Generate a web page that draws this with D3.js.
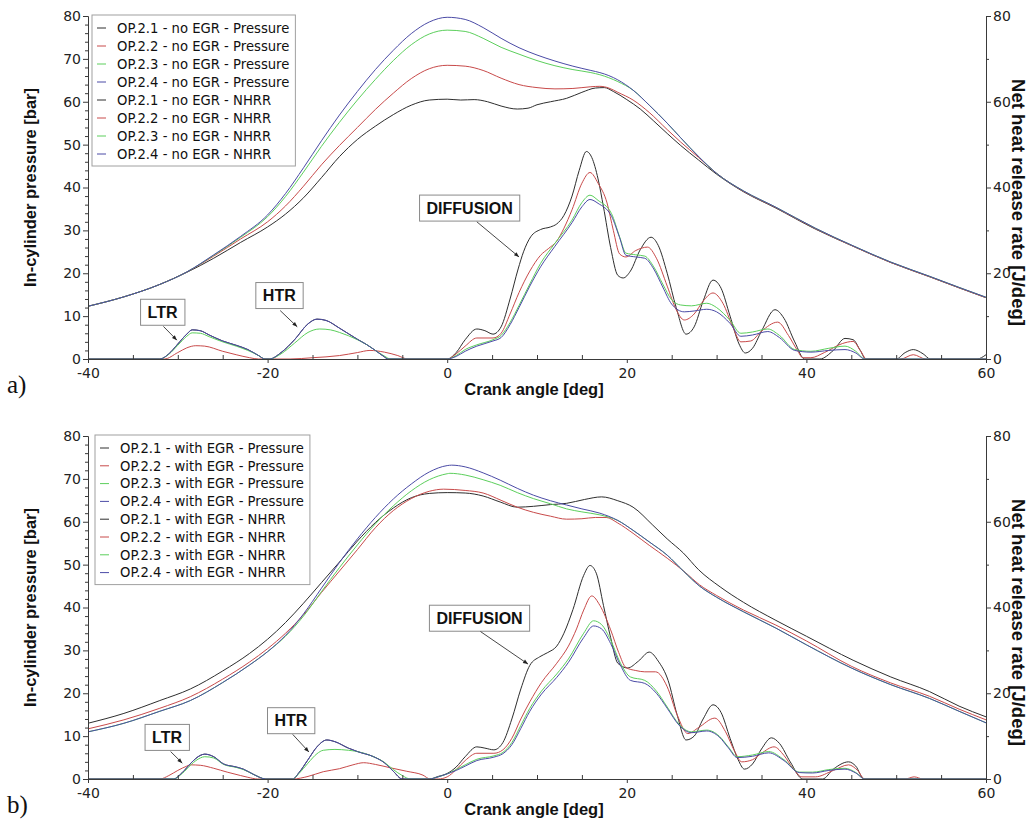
<!DOCTYPE html>
<html><head><meta charset="utf-8">
<script src="https://cdn.jsdelivr.net/npm/d3@7/dist/d3.min.js"></script>
<style>body{margin:0;background:#fff}</style>
</head><body>
<svg id="chart" width="1030" height="826"></svg>
<script>
// ---------------- DATA ----------------
const xMajorTicks = [-40, -20, 0, 20, 40, 60];
const xMinorTicks = [-35,-30,-25,-15,-10,-5,5,10,15,25,30,35,45,50,55];
const yLeftTicks = [0, 10, 20, 30, 40, 50, 60, 70, 80];
const yLeftMinor = [2,4,6,8,12,14,16,18,22,24,26,28,32,34,36,38,42,44,46,48,52,54,56,58,62,64,66,68,72,74,76,78];
const yRightTicks = [0, 20, 40, 60, 80];
const yRightMinor = [10, 30, 50, 70];
const opNames = ["OP.2.1", "OP.2.2", "OP.2.3", "OP.2.4"];
const conditions = ["no EGR", "with EGR"];
const panelTags = ["a)", "b)"];
const quantityNames = ["Pressure", "NHRR"];
const annotationLabels = ["LTR", "HTR", "DIFFUSION"];
// annotation anchors [label index, box centre deg, box centre value, arrow start deg, value, arrow end deg, value]
const annotationsA = [[0,-31.7,10.9,-31.6,7.6,-30.1,4.4],[1,-18.7,14.8,-18.6,11.3,-16.7,7.5],[2,2.5,35.2,3.3,32.0,8.0,23.8]];
const annotationsB = [[0,-31.2,9.7,-30.8,6.4,-29.5,3.7],[1,-17.4,13.6,-17.2,10.4,-15.4,6.3],[2,3.6,37.5,3.7,34.4,9.0,26.8]];

// Panel a) pressure [deg, bar]
const pressA1 = [[-40,12.3],[-36,14.5],[-32,17.4],[-29,20.2],[-26,23.5],[-23,27.2],[-20,30.8],[-18,33.8],[-16,37.6],[-14,42.3],[-12,47.2],[-10,51.2],[-8,54.3],[-6,57],[-4,59.2],[-2,60.4],[0,60.6],[1.5,60.4],[3,60.5],[4.5,60],[6,59],[7.8,58.3],[9,58.5],[10,59.3],[11.5,60],[13.3,60.8],[15,62.2],[16.5,63.2],[17.5,63.3],[18.5,62.4],[20,60.5],[21.5,58.3],[23,55.5],[24.5,52.6],[26,49.8],[28,46.4],[30,43.1],[33,39],[36.6,35.2],[41,30.3],[45.2,26.3],[49.4,22.5],[53.7,19.2],[57,16.6],[60,14.3]];
const pressA2 = [[-40,12.3],[-36,14.5],[-32,17.4],[-29,20.3],[-26,24],[-23,28],[-20,32],[-18,35.7],[-16,40.3],[-14,45.3],[-12,49.8],[-10,54],[-8,58.2],[-6,62],[-4,65.4],[-2,67.7],[0,68.5],[2,68.3],[4,67.3],[6,65.5],[8,64],[10,63.3],[12,63],[14,63.1],[16,63.5],[17,63.6],[18,63.2],[19,62.2],[20.7,60.4],[22.5,57.5],[24.5,53.5],[26,50.6],[28,47],[30,43.3],[33,39.1],[36.6,35.3],[41,30.4],[45.2,26.3],[49.4,22.5],[53.7,19.2],[57,16.6],[60,14.3]];
const pressA3 = [[-40,12.3],[-36,14.5],[-32,17.4],[-29,20.3],[-26,24.2],[-23,28.4],[-20,33.2],[-18,37.9],[-16,43.6],[-14,49.6],[-12,55.2],[-10,60.4],[-8,65.2],[-6,69.6],[-4,73.3],[-2,75.8],[0,76.7],[2,76.4],[4,74.8],[6,72.7],[8,71.1],[10,69.6],[12,68.4],[14,67.5],[16,66.8],[17,66.3],[18,65.6],[19,64.7],[20.7,62.7],[22.5,59.2],[24.5,55],[26,51.6],[28.1,47],[30,43.3],[33,39.2],[36.6,35.4],[41,30.5],[45.2,26.4],[49.4,22.6],[53.7,19.3],[57,16.7],[60,14.4]];
const pressA4 = [[-40,12.3],[-36,14.5],[-32,17.4],[-29,20.3],[-26,24.3],[-23,28.6],[-20,33.6],[-18,38.6],[-16,44.6],[-14,50.9],[-12,56.9],[-10,62.4],[-8,67.5],[-6,72],[-4,75.9],[-2,78.6],[0,79.7],[2,79.2],[4,77.3],[6,74.8],[8,72.6],[10,70.9],[12,69.5],[14,68.3],[16,67.3],[17,66.8],[18,66.1],[19,65.1],[20.7,62.7],[22.5,59.2],[24.5,55],[26,51.6],[28.1,47],[30,43.3],[33,39.2],[36.6,35.4],[41,30.5],[45.2,26.4],[49.4,22.6],[53.7,19.3],[57,16.7],[60,14.4]];

// Panel a) net heat release rate [deg, J/deg]
const nhrrA1 = [[-40,0],[-32,0],[-31,1.2],[-30,3.5],[-29,5.8],[-28.4,6.8],[-27.5,6.6],[-26.5,5.6],[-25,4.2],[-23.5,3.2],[-22.2,2.2],[-21,0.8],[-20.3,0],[-19.8,0],[-18.5,1.5],[-17,4.5],[-15.5,8.2],[-14.5,9.3],[-13.5,9],[-12,7.2],[-10,4.6],[-9,3.4],[-8,2],[-7,0.5],[-6.6,0],[0,0],[1,1.5],[2,4.5],[3.3,7],[4.2,6.6],[5.1,5.8],[6,7.5],[7,14],[7.9,21],[8.5,25],[9.3,28.5],[10.4,30.2],[11.5,30.8],[12.2,31.5],[13,33.5],[13.9,38],[14.7,44],[15.5,48.4],[16.1,47],[16.8,42],[17.4,35.5],[18.2,26],[19,19.5],[19.6,18.9],[20.4,20.5],[21.5,25.5],[22.7,28.4],[23.5,26.5],[24.5,20],[25.5,12],[26.6,5.8],[27.5,7.5],[28.5,13.5],[29.6,18.4],[30.5,16.5],[31.5,10],[32.5,3.5],[33.2,1.4],[34,2.5],[35,6.5],[36.5,11.5],[37.5,9.5],[38.7,4],[39.8,0],[41.5,0],[43,2],[44.3,4.8],[45.2,4.5],[46,2],[46.6,0],[50,0],[51,1.5],[51.9,2.2],[53,1.2],[53.8,0],[59,0],[60,1]];
const nhrrA2 = [[-40,0],[-31.5,0],[-30,1.5],[-29,2.6],[-28,3.1],[-27,3],[-25,1.8],[-23.5,1],[-22,0.3],[-21,0],[-17.5,0],[-15,0.3],[-12,0.8],[-10,1.5],[-8.6,2],[-7,1.6],[-5.5,0.8],[-4.4,0],[0,0],[1,1.2],[2,3],[3.3,4.9],[5.1,4.9],[6,6],[7,10.5],[8,15.5],[9.2,20.5],[10.4,24.2],[11.3,25.8],[12.2,27.5],[13,30.5],[13.9,34.8],[15,41],[15.9,43.5],[16.8,41],[17.8,36.4],[18.5,30],[19.2,24.5],[19.9,23.8],[21,25.3],[22.3,26.1],[23.3,23.5],[24.5,17],[25.5,11.5],[26.4,9.1],[27.5,10.5],[28.5,13.5],[29.6,15.4],[30.7,13],[31.8,7.5],[32.7,4],[33.8,4.2],[35,6.5],[36.8,8.6],[38,5.5],[39,2],[39.6,0.3],[40.5,0.3],[42,1.5],[44,3.6],[45.2,4.1],[46,2],[46.7,0],[50.5,0],[51.9,1],[53.3,0],[60,0]];
const nhrrA3 = [[-40,0],[-32,0],[-31,1.1],[-30,3.2],[-29,5.3],[-28.4,6.1],[-27.5,6],[-26.5,5.2],[-25,4],[-23.5,3],[-22.2,2],[-21,0.8],[-20.3,0],[-19.8,0],[-18.5,1.2],[-17,3.7],[-15.5,6.2],[-14.2,7],[-13,6.8],[-12,6.2],[-10,4.5],[-9,3.4],[-8,2],[-7,0.7],[-6.3,0],[0,0],[1,0.8],[2,2.2],[3.3,3.3],[5.1,4.5],[6,5.5],[7,8.5],[8,12.5],[9.2,17.5],[10.4,22.3],[12,27],[13.9,32.4],[15,36.5],[15.9,38.2],[16.8,37],[18.3,33.9],[19.2,28.5],[19.9,24.7],[21,24.3],[22,24],[23,21.5],[24,17.5],[25,13.8],[26,12.6],[27.2,12.4],[28.9,13],[30,12],[31.5,9],[32.7,6],[34,6.3],[35.7,7],[37,5.5],[38.7,2.2],[40.5,1.8],[42.5,2.5],[44.3,3],[45.5,1.8],[46.5,0],[60,0]];
const nhrrA4 = [[-40,0],[-32,0],[-31,1.2],[-30,3.5],[-29,5.8],[-28.4,6.8],[-27.5,6.6],[-26.5,5.6],[-25,4.2],[-23.5,3.2],[-22.2,2.2],[-21,0.8],[-20.3,0],[-19.8,0],[-18.5,1.5],[-17,4.5],[-15.5,8.2],[-14.5,9.3],[-13.5,9],[-12,7.2],[-10,4.6],[-9,3.4],[-8,2],[-7,0.5],[-6.6,0],[0,0],[1,0.6],[2,1.8],[3.3,3],[5.1,4.2],[6,5],[7,8],[8,12],[9.2,17],[10.4,21.5],[12,26.3],[13.9,31.8],[15,35.5],[15.9,37.2],[16.8,36.3],[18.3,33.3],[19.2,28.3],[19.9,24.2],[21,23.8],[22,23.5],[23,21],[24,16.8],[25,12.8],[26.4,11],[27.5,11.2],[28.9,11.6],[30,11],[31.5,8.3],[32.7,5.3],[34,5.6],[35.7,6.4],[37,5],[38.7,2],[40.5,1.6],[42.5,2],[44.3,2.2],[45.5,1.4],[46.5,0],[60,0]];

// Panel b) pressure [deg, bar]
const pressB1 = [[-40,13],[-36,15.3],[-32,18.3],[-28.6,21],[-25,25.2],[-22,29.3],[-20,32.6],[-18,36.5],[-16,41],[-14,45.8],[-12,50.6],[-10,55.5],[-8,59.8],[-6,63.2],[-4,65.6],[-2,66.6],[0,66.8],[2,66.7],[4,66],[5.9,64.6],[7.8,63.4],[9.6,63.6],[11.5,64],[13.3,64.3],[15.3,65.2],[17.2,65.8],[19,64.9],[20.7,63.4],[22.9,59.2],[24.5,56],[26.3,52.7],[28,48.8],[30.4,44.8],[33,41.2],[36.6,37],[40,33.3],[45.2,27.7],[49.4,23.8],[53.7,20.4],[57,17],[60,14.5]];
const pressB2 = [[-40,11.7],[-36,13.8],[-32,16.5],[-28.6,19.2],[-25,23.3],[-22,27.3],[-20,30.4],[-18,34],[-16,38.3],[-14,43.5],[-12,48.5],[-10,53.5],[-8,58.6],[-6,62.6],[-4,65.4],[-2,67.1],[-0.4,67.6],[2,67.3],[4,66.7],[6,65],[7.8,63.4],[9.6,62.2],[11.5,61.3],[13.3,60.6],[15,60.7],[16.5,61],[17.7,61],[19,59.7],[20.7,57.3],[22.5,54.5],[24.5,51.5],[26.5,48.2],[28.1,45.3],[30,42.8],[33,39.4],[36.6,35.9],[40,32.2],[45,26.3],[49.4,22.4],[53.7,19.3],[57,16.3],[60,13.8]];
const pressB3 = [[-40,11],[-36,13],[-32,15.8],[-28.6,18.3],[-25,22.5],[-22,26.6],[-20,29.7],[-18,33.3],[-16,38],[-14,43.7],[-12,49.3],[-10,54.6],[-8,59.5],[-6,63.7],[-4,67.2],[-2,69.8],[0,71.2],[0.3,71.3],[2,70.9],[4,69.8],[5.9,68.5],[7.8,66.8],[9.6,65.4],[11.5,64.2],[13.3,63],[15,62.3],[17,61.6],[19,60.3],[20.7,58],[22.5,55.3],[24.5,52.2],[26.3,48.5],[28.1,45],[30,42.4],[33,39],[36.6,35.2],[40,31.3],[45,25.9],[49.4,22],[53.7,18.8],[57,15.8],[60,13.1]];
const pressB4 = [[-40,11],[-36,13],[-32,15.8],[-28.6,18.3],[-25,22.5],[-22,26.6],[-20,29.7],[-18,33.5],[-16,38.5],[-14,44.5],[-12,50.5],[-10,56],[-8,61],[-6,65.3],[-4,68.8],[-2,71.6],[0,73.1],[0.5,73.2],[2,72.8],[4,71.4],[5.9,69.7],[7.8,67.8],[9.6,66.2],[11.5,64.9],[13.3,63.9],[15,63],[17,62],[19,60.3],[20.7,58],[22.5,55.3],[24.5,52.2],[26.3,48.5],[28.1,45],[30,42.4],[33,39],[36.6,35.2],[40,31.3],[45,25.9],[49.4,22],[53.7,18.8],[57,15.8],[60,13.1]];

// Panel b) net heat release rate [deg, J/deg]
const nhrrB1 = [[-40,0],[-30.5,0],[-29.5,1.5],[-28.5,3.8],[-27.5,5.5],[-27,5.8],[-26,5.2],[-24.9,3.5],[-23.5,2.8],[-22.7,2.3],[-21.5,1],[-20.2,0],[-17.2,0],[-16.5,1.5],[-15.5,4.5],[-14.5,7.5],[-13.4,9.1],[-12.5,8.7],[-11,7.2],[-10,6.4],[-8.2,5.2],[-7,3.8],[-6,1.8],[-5,0],[-2,0],[-1,0.6],[0,1.3],[1,2.8],[2,5.2],[3.3,7.5],[4.2,7.2],[5.2,6.8],[6.2,8.5],[7.2,14],[8.2,21],[9.2,26.5],[10.3,28.5],[11.2,29.5],[12.2,31],[13,34],[14,39.5],[15.2,47.5],[15.9,49.8],[16.6,48],[17.4,40.5],[18.2,33],[19,27],[20.1,25.9],[21.3,27.5],[22.5,29.6],[23.5,27.5],[24.6,23],[25.6,15],[26.6,9.1],[27.5,10],[28.5,14],[29.6,17.3],[30.5,15.5],[31.5,9.5],[32.4,4.5],[33.1,2.3],[34,3.5],[35,7],[36.1,9.6],[37,8.3],[38.2,4],[39.6,0],[41.8,0],[43,2.3],[44.7,4],[45.5,3],[46.4,0],[60,0]];
const nhrrB2 = [[-40,0],[-32,0],[-31,0.8],[-30,2],[-29,3],[-28.6,3.3],[-27.5,3.2],[-26,2.5],[-24.5,1.6],[-23,0.8],[-22.2,0.4],[-21.1,0],[-17.2,0],[-15.5,0.6],[-13.8,1.7],[-12,2.4],[-10.5,3.3],[-9.3,3.8],[-8,3.4],[-6.3,2.6],[-4.5,1.8],[-2.7,0.9],[-1.9,0],[-1,0],[0,0.5],[1,2.2],[2,4.3],[3.3,6],[5.2,6],[6.2,6.8],[7.2,9.5],[8.2,14],[9.2,18],[10.5,22.5],[12.2,27],[13.5,31],[14.4,35],[15.2,39.4],[16.1,42.7],[17,40.5],[18.2,34.8],[19.1,29.5],[19.9,26],[21,25.3],[22,25],[23.2,25],[24.5,21.5],[25.6,15],[26.8,10.6],[28,12],[29.8,14.2],[31,11],[32,6.5],[32.8,4],[34,4.5],[35,6],[36.4,7.5],[37.5,5.5],[38.5,2.5],[39.5,0.5],[41,0.5],[43,2],[44.7,3.3],[45.7,2],[46.5,0],[51,0],[52,0.5],[53,0],[60,0]];
const nhrrB3 = [[-40,0],[-30.5,0],[-29.5,1.3],[-28.5,3.4],[-27.5,4.9],[-27,5.2],[-26,4.9],[-24.9,3.4],[-23.5,2.7],[-22.7,2.2],[-21.5,1],[-20.2,0],[-17.2,0],[-16.5,1.3],[-15.5,3.7],[-14.5,5.9],[-13.8,6.7],[-12.5,6.9],[-11,6.7],[-10,6.4],[-8.2,5.2],[-7,3.9],[-6,2.2],[-5,0.8],[-4.1,0],[-2,0],[-1,0.5],[0,1.2],[1,2.2],[2,3.3],[3.3,4.6],[5.2,5.4],[6.2,6.2],[7.2,8.5],[8.2,12.5],[9.2,16.5],[10.5,20.5],[12.2,24.5],[13.5,28],[15.2,34],[16.3,36.9],[17.2,36],[18.2,32.4],[19.3,27],[20.4,23.8],[22,23],[23.3,20.5],[24.5,16.8],[25.8,12.8],[27.2,11],[28.9,11.4],[30.3,10],[31.3,7.5],[32.3,5.2],[34,5.6],[35.8,6.4],[37.5,4.5],[39.2,1.6],[40.7,1.6],[42.5,2.2],[44.3,2.5],[45.5,1.5],[46.5,0],[60,0]];
const nhrrB4 = [[-40,0],[-30.5,0],[-29.5,1.5],[-28.5,3.8],[-27.5,5.5],[-27,5.8],[-26,5.2],[-24.9,3.5],[-23.5,2.8],[-22.7,2.3],[-21.5,1],[-20.2,0],[-17.2,0],[-16.5,1.5],[-15.5,4.5],[-14.5,7.5],[-13.4,9.1],[-12.5,8.7],[-11,7.2],[-10,6.4],[-8.2,5.2],[-7,3.8],[-6,1.8],[-5,0],[-2,0],[-1,0.5],[0,1.2],[1,2],[2,3],[3.3,4.3],[5.2,5.1],[6.2,5.9],[7.2,8],[8.2,11.8],[9.2,15.8],[10.5,19.8],[12.2,23.7],[13.5,27.2],[15.2,33],[16.3,35.7],[17.2,35],[18.2,31.6],[19.3,26.5],[20.4,23],[22,22.3],[23.3,20],[24.5,16.5],[25.8,12.6],[27.2,10.8],[28.9,11.2],[30.3,9.8],[31.3,7.3],[32.3,5],[34,5.3],[35.8,6.1],[37.5,4.3],[39.2,1.5],[40.7,1.4],[42.5,2],[44.3,2.3],[45.5,1.4],[46.5,0],[60,0]];

// ---------------- STYLE / LAYOUT ----------------
const colors = ["#2e2e2e", "#c84a4a", "#5ccf5c", "#4b4ba6"];
const axisColor = "#3a3a3a";
const panels = [
  {top: 16, bottom: 359, cond: conditions[0], tag: panelTags[0],
   press: [pressA1, pressA2, pressA3, pressA4], nhrr: [nhrrA1, nhrrA2, nhrrA3, nhrrA4],
   ann: annotationsA, legend: {x: 92, y: 15, row: 18}},
  {top: 436, bottom: 779, cond: conditions[1], tag: panelTags[1],
   press: [pressB1, pressB2, pressB3, pressB4], nhrr: [nhrrB1, nhrrB2, nhrrB3, nhrrB4],
   ann: annotationsB, legend: {x: 95, y: 435, row: 17.8}}
];
const left = 88, right = 986;

const svg = d3.select("#chart");
svg.append("rect").attr("width", 1030).attr("height", 826).attr("fill", "#fff");

const x = d3.scaleLinear().domain([-40, 60]).range([left, right]);

panels.forEach(p => {
  const yL = d3.scaleLinear().domain([0, 80]).range([p.bottom, p.top]);
  const yR = d3.scaleLinear().domain([0, 80]).range([p.bottom, p.top]);
  const g = svg.append("g");

  const styleAxis = (sel) => {
    sel.selectAll("path.domain").attr("stroke", axisColor).attr("stroke-width", 1);
    sel.selectAll(".tick line").attr("stroke", axisColor);
    sel.selectAll(".tick text").attr("fill", "#222").style("font-family", "'DejaVu Sans', Verdana, sans-serif").style("font-size", "14px");
  };

  // curves
  const lineP = d3.line().x(d => x(d[0])).y(d => yL(d[1])).curve(d3.curveMonotoneX);
  const lineH = d3.line().x(d => x(d[0])).y(d => yR(d[1])).curve(d3.curveMonotoneX);
  const curves = g.append("g");
  p.press.forEach((s, i) => {
    curves.append("path").datum(s).attr("d", lineP).attr("fill", "none")
      .attr("stroke", colors[i]).attr("stroke-width", 1);
  });
  p.nhrr.forEach((s, i) => {
    curves.append("path").datum(s).attr("d", lineH).attr("fill", "none")
      .attr("stroke", colors[i]).attr("stroke-width", 1);
  });

  // x axis
  const gx = g.append("g").attr("transform", `translate(0,${p.bottom})`)
    .call(d3.axisBottom(x).tickValues(xMajorTicks).tickSize(4).tickPadding(5).tickFormat(d3.format("d")));
  styleAxis(gx);
  gx.selectAll(".tick text").text(d => d < 0 ? "-" + Math.abs(d) : d);
  const gxm = g.append("g").attr("transform", `translate(0,${p.bottom})`)
    .call(d3.axisBottom(x).tickValues(xMinorTicks).tickSize(-4).tickFormat(""));
  styleAxis(gxm); gxm.select("path.domain").remove();

  // left axis
  const gl = g.append("g").attr("transform", `translate(${left},0)`)
    .call(d3.axisLeft(yL).tickValues(yLeftTicks).tickSize(5).tickPadding(2));
  styleAxis(gl);
  const glm = g.append("g").attr("transform", `translate(${left},0)`)
    .call(d3.axisLeft(yL).tickValues(yLeftMinor).tickSize(3).tickFormat(""));
  styleAxis(glm); glm.select("path.domain").remove();

  // right axis
  const gr = g.append("g").attr("transform", `translate(${right},0)`)
    .call(d3.axisRight(yR).tickValues(yRightTicks).tickSize(5).tickPadding(2));
  styleAxis(gr);
  const grm = g.append("g").attr("transform", `translate(${right},0)`)
    .call(d3.axisRight(yR).tickValues(yRightMinor).tickSize(3).tickFormat(""));
  styleAxis(grm); grm.select("path.domain").remove();

  // axis titles
  const titleFont = "'Liberation Sans', Arial, sans-serif";
  g.append("text").attr("x", 534).attr("y", p.bottom + 36)
    .attr("text-anchor", "middle").style("font-family", titleFont).style("font-weight", "bold")
    .style("font-size", "16.5px").attr("fill", "#111").text("Crank angle [deg]");
  g.append("text").attr("transform", `translate(36,${(p.top + p.bottom) / 2}) rotate(-90)`)
    .attr("text-anchor", "middle").style("font-family", titleFont).style("font-weight", "bold")
    .style("font-size", "16.5px").attr("fill", "#111").text("In-cylinder pressure [bar]");
  g.append("text").attr("transform", `translate(1012,${(p.top + p.bottom) / 2 + 15}) rotate(90)`)
    .attr("text-anchor", "middle").style("font-family", titleFont).style("font-weight", "bold")
    .style("font-size", "18.5px").attr("fill", "#111").text("Net heat release rate [J/deg]");

  // panel tag
  g.append("text").attr("x", 7).attr("y", p.bottom + 34)
    .style("font-family", "'Liberation Serif', 'DejaVu Serif', serif").style("font-size", "25px")
    .attr("fill", "#111").text(p.tag);

  // annotations
  const annFont = "'Liberation Sans', Arial, sans-serif";
  const ag = g.append("g");
  p.ann.forEach(a => {
    const cx = x(a[1]), cy = yR(a[2]);
    const t = ag.append("text").attr("x", cx).attr("y", cy).attr("dy", "0.36em")
      .attr("text-anchor", "middle").style("font-family", annFont).style("font-weight", "bold")
      .style("font-size", "16px").attr("fill", "#111").text(annotationLabels[a[0]]);
    const bb = t.node().getBBox();
    ag.insert("rect", () => t.node())
      .attr("x", bb.x - 7).attr("y", cy - 13).attr("width", bb.width + 14).attr("height", 26)
      .attr("fill", "#fff").attr("stroke", "#8a8a8a").attr("stroke-width", 1);
    const x1 = x(a[3]), y1 = yR(a[4]), x2 = x(a[5]), y2 = yR(a[6]);
    ag.append("line").attr("x1", x1).attr("y1", y1).attr("x2", x2).attr("y2", y2)
      .attr("stroke", "#333").attr("stroke-width", 0.9);
    const ang = Math.atan2(y2 - y1, x2 - x1);
    const L = 5, W = 2;
    const pts = [[x2, y2],
      [x2 - L * Math.cos(ang) + W * Math.sin(ang), y2 - L * Math.sin(ang) - W * Math.cos(ang)],
      [x2 - L * Math.cos(ang) - W * Math.sin(ang), y2 - L * Math.sin(ang) + W * Math.cos(ang)]];
    ag.append("polygon").attr("points", pts.map(q => q.join(",")).join(" ")).attr("fill", "#222");
  });

  // legend
  const lg = g.append("g").attr("transform", `translate(${p.legend.x},${p.legend.y})`);
  const entries = [];
  quantityNames.forEach(q => opNames.forEach((n, i) => entries.push({text: `${n} - ${p.cond} - ${q}`, color: colors[i]})));
  const box = lg.append("rect").attr("fill", "#fff").attr("stroke", "#a0a0a0").attr("stroke-width", 1);
  let maxW = 0;
  entries.forEach((e, k) => {
    const yy = 13 + k * p.legend.row;
    lg.append("line").attr("x1", 5).attr("x2", 14).attr("y1", yy).attr("y2", yy)
      .attr("stroke", e.color).attr("stroke-width", 1);
    const t = lg.append("text").attr("x", 25).attr("y", yy).attr("dy", "0.36em")
      .style("font-family", "'DejaVu Sans', Verdana, sans-serif").style("font-size", "13.2px")
      .attr("fill", "#111").text(e.text);
    maxW = Math.max(maxW, t.node().getComputedTextLength());
  });
  box.attr("x", 0).attr("y", 0).attr("width", 25 + maxW + 6)
    .attr("height", 13 + 7 * p.legend.row + 12);
});
</script>
</body></html>
